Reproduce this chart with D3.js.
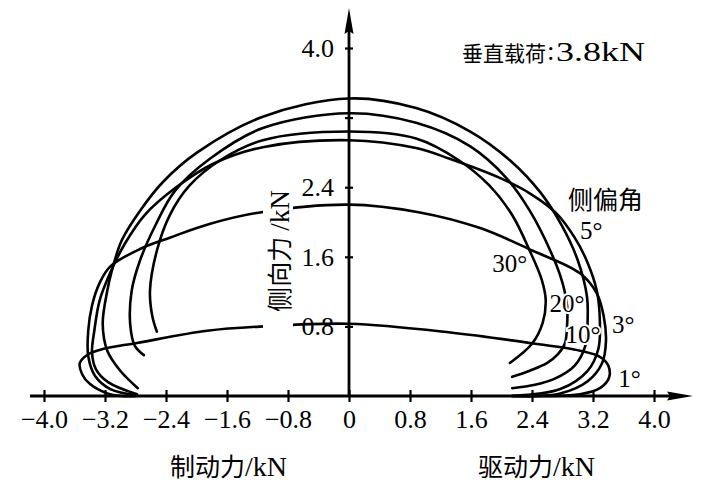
<!DOCTYPE html>
<html><head><meta charset="utf-8">
<script src="https://cdn.jsdelivr.net/npm/d3@7"></script>
<style>
body{margin:0;background:#fff}
svg text{font-family:"Liberation Serif","Times New Roman","Noto Sans CJK SC",serif;fill:#000}
</style>
</head><body><svg id="c" width="704" height="484"></svg>
<script>
// ---- data ----
const xTicks = [-4.0,-3.2,-2.4,-1.6,-0.8,0,0.8,1.6,2.4,3.2,4.0];
const xTickLabels = ["\u22124.0","\u22123.2","\u22122.4","\u22121.6","\u22120.8","0","0.8","1.6","2.4","3.2","4.0"];
const yTicks = [0.8,1.6,2.4,3.2,4.0];
const yTickLabels = ["0.8","1.6","2.4","","4.0"];
const slipAngles = ["1°","3°","5°","10°","20°","30°"];

const fx1 = [-2.78,-2.98,-3.17,-3.40,-3.50,-3.53,-3.42,-3.23,-2.78,-1.86,-1.12,0,1.33,2.37,3.03,3.29,3.40,3.41,3.29,3.03,2.57,2.14];
const fy1 = [0.00,0.00,0.03,0.14,0.25,0.38,0.48,0.54,0.61,0.75,0.80,0.83,0.73,0.61,0.52,0.45,0.35,0.21,0.09,0.02,0.00,0.00];

const fx3 = [-2.78,-3.13,-3.33,-3.42,-3.42,-3.37,-3.27,-3.13,-2.74,-2.35,-1.82,-1.17,0,0.93,1.72,2.41,3.03,3.25,3.34,3.37,3.32,3.13,2.77,2.14];
const fy3 = [0.01,0.08,0.23,0.46,0.75,1.04,1.30,1.49,1.69,1.82,1.98,2.11,2.20,2.11,1.93,1.67,1.41,1.18,0.92,0.63,0.38,0.17,0.03,0.00];

const fx5 = [-2.78,-3.16,-3.32,-3.37,-3.34,-3.27,-3.13,-2.94,-2.68,-2.28,-1.78,-1.13,0,0.88,1.31,1.97,2.37,2.72,2.96,3.13,3.25,3.29,3.27,3.13,2.77,2.14];
const fy5 = [0.02,0.16,0.31,0.50,0.75,1.10,1.42,1.75,2.08,2.39,2.67,2.86,2.94,2.85,2.73,2.51,2.33,2.10,1.82,1.53,1.21,0.86,0.54,0.29,0.08,0.00];

const fx10 = [-2.77,-3.00,-3.17,-3.23,-3.17,-3.11,-2.98,-2.74,-2.44,-1.99,-1.13,0,0.88,1.59,2.11,2.51,2.79,3.00,3.12,3.13,3.10,2.96,2.70,2.44,2.14];
const fy10 = [0.09,0.29,0.52,0.83,1.21,1.44,1.79,2.13,2.46,2.80,3.21,3.42,3.31,3.04,2.71,2.34,1.96,1.56,1.15,0.89,0.58,0.35,0.20,0.13,0.09];

const fx20 = [-2.69,-2.81,-2.87,-2.85,-2.74,-2.54,-2.28,-1.82,-1.13,0,0.88,1.59,2.05,2.37,2.64,2.79,2.86,2.86,2.83,2.74,2.60,2.37,2.14];
const fy20 = [0.47,0.58,0.83,1.21,1.56,1.96,2.36,2.73,3.08,3.25,3.14,2.87,2.52,2.13,1.67,1.33,1.04,0.81,0.60,0.48,0.38,0.29,0.22];

const fx30 = [-2.52,-2.58,-2.61,-2.52,-2.35,-2.09,-1.69,-1.13,0,0.88,1.44,1.84,2.14,2.37,2.53,2.58,2.54,2.40,2.11];
const fy30 = [0.74,0.92,1.21,1.67,2.08,2.42,2.71,2.94,3.04,2.96,2.71,2.42,2.08,1.67,1.33,1.10,0.84,0.60,0.38];

const seriesFx = [fx1,fx3,fx5,fx10,fx20,fx30];
const seriesFy = [fy1,fy3,fy5,fy10,fy20,fy30];

// label anchors (data units) for slip-angle labels
const labelFx = [3.53,3.45,3.03,2.84,2.63,1.88];
const labelFy = [0.10,0.72,1.80,0.61,0.97,1.42];

// ---- drawing ----
const svg = d3.select("#c");
const x = d3.scaleLinear().domain([-4,4]).range([44,654]);
const y = d3.scaleLinear().domain([0,4]).range([396,48]);

const line = d3.line().x(d=>x(d[0])).y(d=>y(d[1])).curve(d3.curveCatmullRom.alpha(0.5));

const gCurves = svg.append("g");
seriesFx.forEach((fx,i)=>{
  const pts = fx.map((v,j)=>[v, seriesFy[i][j]]);
  gCurves.append("path").attr("d", line(pts))
    .attr("fill","none").attr("stroke","#000").attr("stroke-width",2.6)
    .attr("stroke-linejoin","round").attr("stroke-linecap","round");
});

// white knockout behind the vertical axis title
svg.append("rect").attr("x",263).attr("y",160).attr("width",30).attr("height",180).attr("fill","#fff");

// axes
const xAxis = d3.axisBottom(x).tickValues(xTicks).tickSize(6).tickPadding(8)
  .tickFormat((d,i)=>xTickLabels[i]);
const gx = svg.append("g").attr("transform",`translate(0,${y(0)})`).call(xAxis);
gx.select(".domain").remove();
gx.selectAll(".tick line").attr("y1",-6).attr("y2",6).attr("stroke","#000").attr("stroke-width",2.2);
gx.selectAll(".tick text").attr("font-size",26).attr("font-family","Liberation Serif").attr("fill","#000").attr("dy","0.68em");
svg.append("line").attr("x1",30).attr("x2",680).attr("y1",y(0)).attr("y2",y(0)).attr("stroke","#000").attr("stroke-width",2.8);
svg.append("path").attr("d",`M693,${y(0)} L667,${y(0)-4.5} L670,${y(0)} L667,${y(0)+4.5} Z`).attr("fill","#000");

const yAxis = d3.axisLeft(y).tickValues(yTicks).tickSize(4).tickPadding(11)
  .tickFormat((d,i)=>yTickLabels[i]);
const gy = svg.append("g").attr("transform",`translate(${x(0)},0)`).call(yAxis);
gy.select(".domain").remove();
gy.selectAll(".tick line").attr("x1",-4).attr("x2",4).attr("stroke","#000").attr("stroke-width",2.2);
gy.selectAll(".tick text").attr("font-size",26).attr("font-family","Liberation Serif").attr("fill","#000");
svg.append("line").attr("x1",x(0)).attr("x2",x(0)).attr("y1",y(0)).attr("y2",22).attr("stroke","#000").attr("stroke-width",2.8);
svg.append("path").attr("d",`M${x(0)},8 L${x(0)-4.5},34 L${x(0)},31 L${x(0)+4.5},34 Z`).attr("fill","#000");

// slip-angle labels
slipAngles.forEach((s,i)=>{
  svg.append("text").attr("x",x(labelFx[i])).attr("y",y(labelFy[i]))
    .attr("font-size",25).attr("stroke","#fff").attr("stroke-width",4)
    .attr("paint-order","stroke").text(s);
});

// titles
svg.append("text").attr("x",462).attr("y",61).attr("font-size",21).attr("font-family","Noto Sans CJK SC").text("垂直载荷");
svg.append("text").attr("x",547).attr("y",60).attr("font-size",27).text(":");
svg.append("text").attr("x",556).attr("y",61).attr("font-size",27)
  .attr("textLength",89).attr("lengthAdjust","spacingAndGlyphs").text("3.8kN");
svg.append("text").attr("x",568).attr("y",209).attr("font-size",25).text("侧偏角");
const t1 = svg.append("text").attr("x",170).attr("y",476);
t1.append("tspan").attr("font-size",25).text("制动力");
t1.append("tspan").attr("font-size",28).text("/kN");
const t2 = svg.append("text").attr("x",478).attr("y",476);
t2.append("tspan").attr("font-size",25).text("驱动力");
t2.append("tspan").attr("font-size",28).text("/kN");
const t3 = svg.append("text").attr("transform","translate(289,251) rotate(-90)").attr("text-anchor","middle");
t3.append("tspan").attr("font-size",25).text("侧向力 ");
t3.append("tspan").attr("font-size",27).text("/kN");
</script>
</body></html>
